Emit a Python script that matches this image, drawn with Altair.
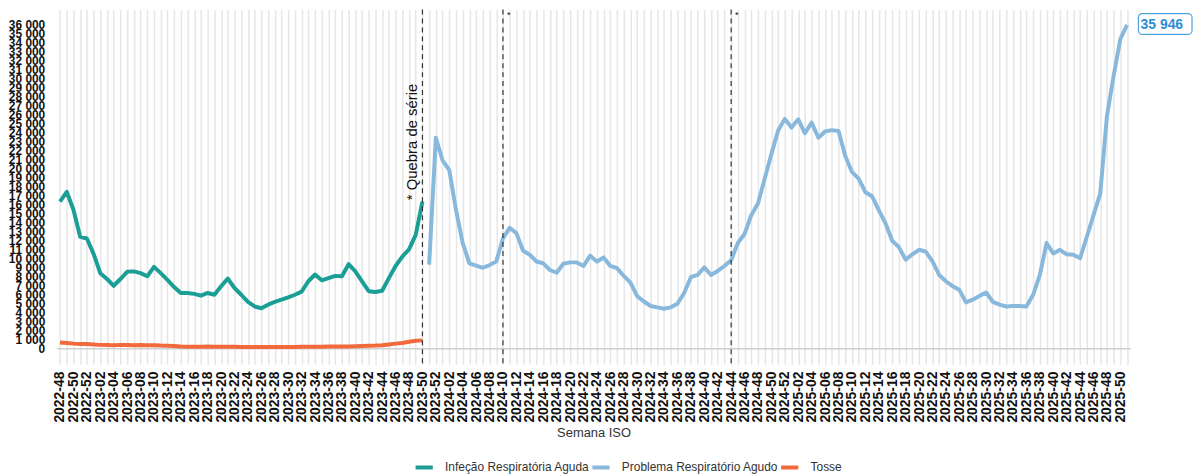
import altair as alt
import pandas as pd

# ISO week categories 2022-48 .. 2025-51
week_ranges = [(2022, 48, 52), (2023, 1, 52), (2024, 1, 52), (2025, 1, 51)]
weeks = [f"{y}-{w:02d}" for (y, a, b) in week_ranges for w in range(a, b + 1)]

series_names = ["Infeção Respiratória Aguda", "Problema Respiratório Agudo", "Tosse"]
series_colors = ["#1b9e96", "#88b8dc", "#f26a3c"]

# Infeção Respiratória Aguda: 2022-48 .. 2023-50
ira = [16300, 17400, 15400, 12400, 12200, 10500, 8350, 7700, 6950, 7700,
       8500, 8550, 8350, 8000, 9050, 8350, 7600, 6800, 6150, 6150,
       6050, 5850, 6150, 5950, 6900, 7750, 6700, 5950, 5150, 4650,
       4450, 4850, 5150, 5400, 5650, 5950, 6300, 7450, 8200, 7550,
       7800, 8050, 8000, 9350, 8550, 7450, 6350, 6250, 6400, 7800,
       9150, 10200, 11000, 12600, 16300]

# Problema Respiratório Agudo: 2023-51 .. 2025-51
pra = [9300, 23400, 20900, 19800, 15400, 11700, 9450, 9200, 8950, 9250,
       9650, 12200, 13400, 12800, 10850, 10400, 9650, 9450, 8700, 8400,
       9400, 9550, 9550, 9150, 10300, 9650, 10100, 9150, 8900, 8050,
       7300, 5800, 5200, 4700, 4550, 4400, 4550, 4950, 6150, 7900,
       8150, 9000, 8150, 8600, 9150, 9800, 11700, 12700, 14800, 16100,
       18850, 21600, 24200, 25500, 24550, 25450, 23900, 25100, 23400, 24100,
       24250, 24150, 21400, 19600, 18850, 17350, 16900, 15350, 13900, 11950,
       11250, 9850, 10450, 10950, 10750, 9650, 8150, 7450, 6900, 6500,
       5100, 5400, 5800, 6200, 5150, 4850, 4650, 4700, 4700, 4650,
       5950, 8150, 11700, 10550, 10950, 10450, 10400, 10000, 12400, 14800,
       17200, 25800, 30300, 34400, 35946]

# Tosse: 2022-48 .. 2023-50
tosse = [650, 580, 520, 480, 470, 420, 380, 360, 350, 380,
         370, 340, 360, 330, 350, 300, 280, 250, 200, 180,
         170, 180, 190, 170, 180, 170, 160, 150, 150, 140,
         140, 140, 140, 150, 150, 150, 160, 170, 170, 180,
         190, 200, 200, 210, 230, 260, 280, 300, 340, 430,
         520, 580, 720, 830, 880]

break_weeks = ["2023-50", "2024-10", "2024-44"]
break_label = "* Quebra de série"
y_ticks = list(range(0, 36001, 1000))

rows = []
for w, v in zip(weeks[:len(ira)], ira):
    rows.append({"week": w, "value": v, "series": series_names[0]})
for w, v in zip(weeks[len(ira):], pra):
    rows.append({"week": w, "value": v, "series": series_names[1]})
for w, v in zip(weeks[:len(tosse)], tosse):
    rows.append({"week": w, "value": v, "series": series_names[2]})
df = pd.DataFrame(rows)

FONT = "Liberation Sans"
GRID = "#e6e6e6"

xscale = alt.Scale(type="point", domain=weeks, range=[4, 1085])
yscale = alt.Scale(domain=[0, 37650], nice=False)
xaxis = alt.Axis(
    title="Semana ISO", labelAngle=270,
    labelExpr="toNumber(substring(datum.value, 5)) % 2 == 0 ? datum.value : ''",
    labelFont=FONT, labelFontWeight="bold", labelFontSize=14, labelColor="#111",
    labelPadding=7, labelOverlap=False,
    tickSize=16, tickColor=GRID, tickWidth=1.5,
    grid=True, gridColor=GRID, gridWidth=1.5,
    domainColor="#cfcfcf", domainWidth=1.5,
    titleFont=FONT, titleFontSize=13, titleFontWeight="normal", titleColor="#333",
    titlePadding=4,
)
yaxis = alt.Axis(
    title=None, values=y_ticks, tickCount=37,
    labelExpr="replace(format(datum.value, ','), ',', ' ')",
    labelFont=FONT, labelFontWeight="bold", labelFontSize=12, labelColor="#111",
    labelOverlap=False, labelFlush=False, labelBound=False,
    ticks=False, domain=False, grid=False,
    labelPadding=8,
)

X = alt.X("week:O", scale=xscale, axis=xaxis, sort=weeks)

lines = alt.Chart(df).mark_line(strokeWidth=4, strokeJoin="round").encode(
    x=X,
    y=alt.Y("value:Q", scale=yscale, axis=yaxis),
    color=alt.Color(
        "series:N",
        scale=alt.Scale(domain=series_names, range=series_colors),
        legend=alt.Legend(
            orient="none", legendX=363, legendY=450, direction="horizontal",
            title=None, symbolType="stroke", symbolStrokeWidth=4, symbolSize=300,
            labelFont=FONT, labelFontSize=12, labelColor="#333", labelLimit=400,
            columnPadding=-12, labelOffset=10,
        ),
    ),
    detail="series:N",
)

breaks_df = pd.DataFrame({"week": break_weeks})
rules = alt.Chart(breaks_df).mark_rule(strokeDash=[5, 4], color="#333", strokeWidth=1.2).encode(
    x=X,
    y=alt.value(0),
    y2=alt.value(357),
)

ann_df = pd.DataFrame({"week": [break_weeks[0]], "t": [break_label]})
ann = alt.Chart(ann_df).mark_text(
    angle=270, align="left", baseline="middle", dy=-10,
    font=FONT, fontSize=15, color="#111",
).encode(x=X, y=alt.value(192), text="t:N")

stars_df = pd.DataFrame({"week": break_weeks[1:], "t": ["*", "*"]})
stars = alt.Chart(stars_df).mark_text(
    align="left", baseline="middle", dx=4, font=FONT, fontSize=9, color="#111",
).encode(x=X, y=alt.value(5), text="t:N")

last_df = pd.DataFrame({"week": [weeks[-1]], "value": [pra[-1]]})
box = alt.Chart(last_df).mark_rect(
    fill="white", stroke="#4fa3dc", strokeWidth=1.2, cornerRadius=4,
).encode(x=alt.value(1093), x2=alt.value(1147), y=alt.value(4), y2=alt.value(25))
label = alt.Chart(last_df).transform_calculate(
    lab="replace(format(datum.value, ','), ',', ' ')"
).mark_text(
    align="center", baseline="middle", dx=35, font=FONT, fontSize=14,
    fontWeight="bold", color="#2b8fd3",
).encode(x=X, y=alt.Y("value:Q", scale=yscale, axis=yaxis), text="lab:N")

chart = alt.layer(lines, rules, ann, stars, box, label).properties(
    width=1150, height=341,
    padding={"left": 45, "top": 0, "right": 0, "bottom": 130},
    autosize=alt.AutoSizeParams(type="none"),
    background="white",
).configure_view(stroke=None)

chart.save("out.html", embed_options={"renderer": "svg", "actions": False})
